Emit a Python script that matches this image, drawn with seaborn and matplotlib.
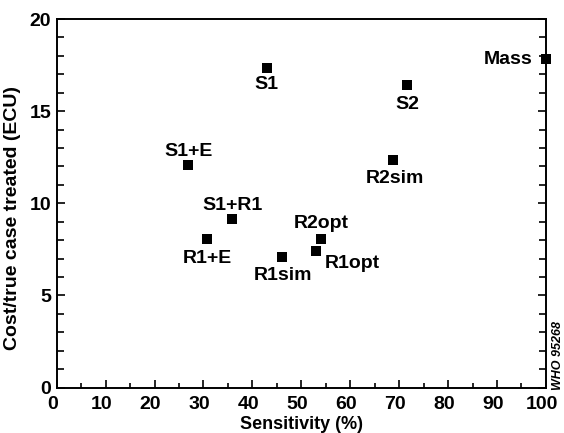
import pandas as pd
import matplotlib
matplotlib.use("Agg")
import matplotlib.pyplot as plt
import matplotlib.transforms as mtransforms
import seaborn as sns
from matplotlib.ticker import MultipleLocator

# strategies with sensitivity (%) and cost per true case treated (ECU)
labels = ["S1", "Mass", "S2", "S1+E", "R2sim", "S1+R1", "R1+E", "R1sim", "R2opt", "R1opt"]
sensitivity = [42.9, 100.0, 71.6, 26.9, 68.8, 35.9, 30.7, 46.0, 54.0, 53.0]
cost = [17.37, 17.81, 16.41, 12.07, 12.36, 9.13, 8.05, 7.06, 8.04, 7.42]

df = pd.DataFrame({"label": labels, "sens": sensitivity, "cost": cost})

sns.set_style("ticks")
plt.rcParams["font.family"] = ["Liberation Sans", "DejaVu Sans"]
for k in ["text.color", "axes.labelcolor", "xtick.color", "ytick.color", "axes.edgecolor"]:
    plt.rcParams[k] = "black"

fig = plt.figure(figsize=(5.64, 4.33), dpi=100)
ax = fig.add_axes([0.1005, 0.105, 0.8675, 0.851])

sns.scatterplot(data=df, x="sens", y="cost", marker="s", s=52, color="black",
                edgecolor="black", linewidth=0, ax=ax, clip_on=False, zorder=5)

# where each label sits relative to its marker (offset in points, ha, va)
offsets = {
    "S1": (0, -6, "center", "top"),
    "Mass": (-10, 0, "right", "center"),
    "S2": (0, -7.5, "center", "top"),
    "S1+E": (0, 6.5, "center", "baseline"),
    "R2sim": (1, -7.5, "center", "top"),
    "S1+R1": (0, 6.5, "center", "baseline"),
    "R1+E": (0, -7.5, "center", "top"),
    "R1sim": (1, -7, "center", "top"),
    "R2opt": (0, 8, "center", "baseline"),
    "R1opt": (6, -3, "left", "top"),
}

for lab, x, y in zip(labels, sensitivity, cost):
    dx, dy, ha, va = offsets[lab]
    ax.annotate(lab, (x, y), xytext=(dx, dy), textcoords="offset points",
                ha=ha, va=va, fontsize=14, fontweight="bold")

ax.set_xlim(0, 100)
ax.set_ylim(0, 20)
ax.xaxis.set_major_locator(MultipleLocator(10))
ax.xaxis.set_minor_locator(MultipleLocator(5))
ax.yaxis.set_major_locator(MultipleLocator(5))
ax.yaxis.set_minor_locator(MultipleLocator(1))
ax.tick_params(which="both", direction="in", top=False, right=True,
               width=1.2, labelsize=14)
ax.tick_params(axis="x", which="both", pad=6)
ax.tick_params(axis="y", which="both", pad=4)
ax.tick_params(axis="x", which="major", length=5.5)
ax.tick_params(axis="x", which="minor", length=3.5)
ax.tick_params(axis="y", which="major", length=6)
ax.tick_params(axis="y", which="minor", length=5)

shift = mtransforms.ScaledTranslation(-3 / 72, 0, fig.dpi_scale_trans)
for lbl in ax.get_xticklabels():
    lbl.set_fontweight("bold")
    lbl.set_transform(lbl.get_transform() + shift)
for lbl in ax.get_yticklabels():
    lbl.set_fontweight("bold")
for s in ax.spines.values():
    s.set_linewidth(1.4)
    s.set_color("black")

ax.set_xlabel("Sensitivity (%)", fontsize=13, fontweight="bold", labelpad=2)
ax.set_ylabel("Cost/true case treated (ECU)", fontsize=14, fontweight="bold")
ax.yaxis.set_label_coords(-0.072, 0.46)

fig.text(0.99, 0.1, "WHO 95268", rotation=90, fontsize=9, style="italic",
         fontweight="bold", ha="center", va="bottom")

fig.savefig("out.png", dpi=100)
